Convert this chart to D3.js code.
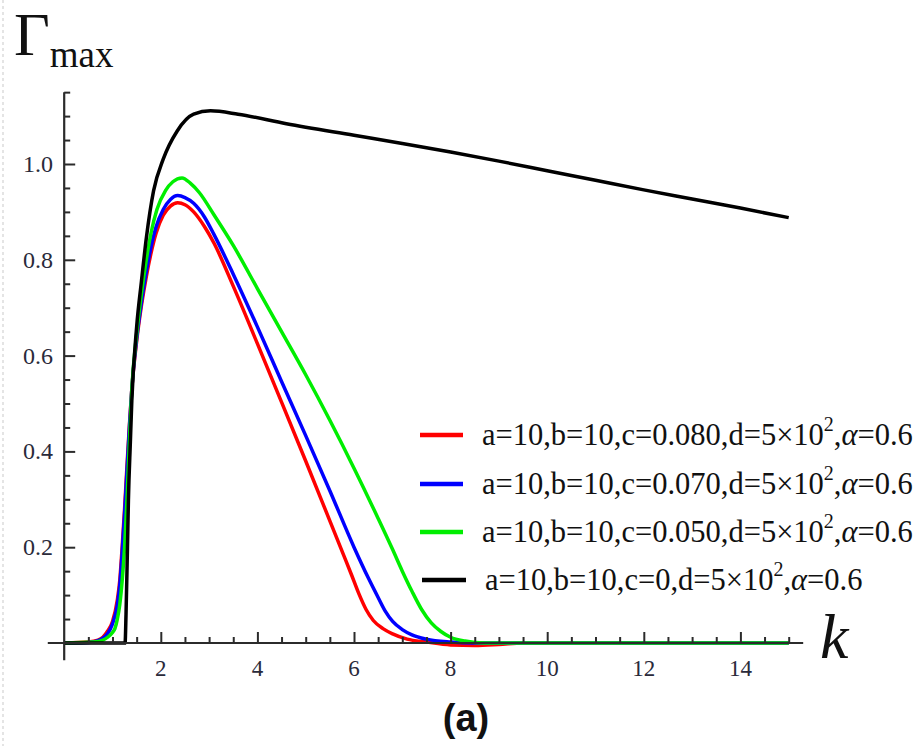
<!DOCTYPE html>
<html>
<head>
<meta charset="utf-8">
<script src="https://cdn.jsdelivr.net/npm/d3@7"></script>
<style>
  body { margin: 0; background: #fff; }
  svg { display: block; }
  .serif { font-family: 'Liberation Serif', 'Times New Roman', 'DejaVu Serif', serif; }
</style>
</head>
<body>
<script>
// Gamma_max against k, four values of c

const WIDTH = 917;
const HEIGHT = 746;

// series: [k, Gamma_max]
const redPoints = [[0,0],[0.5,0.002],[0.7,0.006],[0.8,0.012],[0.9,0.025],[1.0,0.045],[1.1,0.09],[1.15,0.13],[1.2,0.2],
  [1.25,0.28],[1.3,0.37],[1.35,0.455],[1.4,0.53],[1.5,0.63],[1.6,0.705],[1.7,0.765],[1.8,0.815],[1.9,0.855],[2.05,0.893],
  [2.2,0.912],[2.35,0.919],[2.5,0.915],[2.68,0.9],[2.9,0.87],[3.1,0.835],[3.5,0.745],[4.0,0.625],[4.5,0.503],[5.0,0.38],
  [5.5,0.255],[5.8,0.18],[5.95,0.142],[6.1,0.103],[6.25,0.07],[6.4,0.047],[6.6,0.03],[6.8,0.019],[7.1,0.008],[7.5,0.002],
  [8.0,-0.004],[8.5,-0.005],[9.0,-0.003],[9.5,0],[15,0]];

const bluePoints = [[0,0],[0.5,0.001],[0.7,0.005],[0.8,0.01],[0.9,0.02],[1.0,0.04],[1.1,0.08],[1.15,0.12],[1.2,0.19],
  [1.25,0.27],[1.3,0.36],[1.35,0.45],[1.4,0.53],[1.5,0.635],[1.6,0.712],[1.7,0.775],[1.8,0.828],[1.9,0.868],[2.05,0.905],
  [2.2,0.926],[2.35,0.934],[2.5,0.93],[2.68,0.918],[2.9,0.89],[3.1,0.853],[3.5,0.77],[4.0,0.66],[4.5,0.546],[5.0,0.433],
  [5.5,0.318],[6.0,0.2],[6.3,0.135],[6.5,0.095],[6.65,0.066],[6.8,0.045],[7.0,0.028],[7.2,0.017],[7.5,0.008],[8.0,0.002],
  [8.5,0],[15,0]];

const greenPoints = [[0,0],[0.6,0.002],[0.8,0.006],[0.9,0.012],[1.0,0.022],[1.05,0.03],[1.1,0.05],[1.15,0.08],[1.2,0.13],
  [1.25,0.2],[1.3,0.3],[1.35,0.42],[1.4,0.53],[1.5,0.645],[1.6,0.73],[1.7,0.8],[1.8,0.857],[1.92,0.905],[2.1,0.945],
  [2.25,0.963],[2.44,0.971],[2.61,0.96],[2.8,0.94],[3.1,0.894],[3.5,0.83],[4.0,0.74],[4.5,0.65],[5.0,0.56],[5.5,0.465],
  [6.0,0.365],[6.5,0.26],[6.8,0.195],[7.0,0.15],[7.2,0.108],[7.4,0.07],[7.6,0.042],[7.8,0.024],[8.0,0.012],[8.3,0.004],
  [8.7,0],[15,0]];

const blackPoints = [[0,0],[1.26,0],[1.28,0.06],[1.31,0.2],[1.33,0.3],[1.37,0.42],[1.4,0.506],[1.5,0.66],[1.6,0.756],
  [1.7,0.845],[1.85,0.944],[2.05,1.01],[2.34,1.069],[2.68,1.104],[3.03,1.111],[3.6,1.104],[4.6,1.084],[6.0,1.06],
  [7.0,1.043],[8.0,1.025],[9.0,1.006],[10.0,0.986],[11.0,0.966],[12.0,0.946],[13.0,0.927],[14.0,0.908],[15.0,0.888]];

const cValues = ["0.080", "0.070", "0.050", "0"];
const xTicks = [2, 4, 6, 8, 10, 12, 14];
const yTicks = [0.2, 0.4, 0.6, 0.8, 1.0];

const series = [
  {points: redPoints,   color: "#ff0000", c: cValues[0]},
  {points: bluePoints,  color: "#0000ff", c: cValues[1]},
  {points: greenPoints, color: "#00ee00", c: cValues[2]},
  {points: blackPoints, color: "#000000", c: cValues[3]}
];

// scales: k=0 sits at x=64, Gamma=0 at y=643
let xScale = d3.scaleLinear().domain([0, 15]).range([64.2, 788.7]);
let yScale = d3.scaleLinear().domain([0, 1]).range([643, 164]);

let svg = d3.select("body").append("svg")
  .attr("width", WIDTH)
  .attr("height", HEIGHT);

// faint dashed edge on the left
svg.append("line")
  .attr("x1", 3).attr("x2", 3).attr("y1", 0).attr("y2", HEIGHT)
  .attr("stroke", "#e4e4e4").attr("stroke-width", 2).attr("stroke-dasharray", "3,3");

let line = d3.line()
  .x(d => xScale(d[0]))
  .y(d => yScale(d[1]))
  .curve(d3.curveMonotoneX);

svg.append("g").selectAll("path")
  .data(series)
  .enter().append("path")
    .attr("d", d => line(d.points))
    .attr("fill", "none")
    .attr("stroke", d => d.color)
    .attr("stroke-width", 3.5)
    .attr("stroke-linejoin", "round");

// axes, Mathematica style: crossing at the origin, ticks pointing inwards
const axisColor = "#2b2b2b";

let xAxis = d3.axisTop(xScale)
  .tickValues(d3.range(0.5, 15.01, 0.5))
  .tickSize(0).tickFormat("");
let xAxisG = svg.append("g").attr("transform", "translate(0," + yScale(0) + ")").call(xAxis);
xAxisG.select(".domain").remove();
xAxisG.selectAll(".tick line")
  .attr("y2", d => Number.isInteger(d / 2) ? -11 : -6)
  .attr("stroke", axisColor).attr("stroke-width", 2);
xAxisG.append("line")
  .attr("x1", xScale(-0.34)).attr("x2", xScale(15.3))
  .attr("stroke", axisColor).attr("stroke-width", 2.2);

let yAxis = d3.axisRight(yScale)
  .tickValues(d3.range(0.05, 1.151, 0.05))
  .tickSize(0).tickFormat("");
let yAxisG = svg.append("g").attr("transform", "translate(" + xScale(0) + ",0)").call(yAxis);
yAxisG.select(".domain").remove();
yAxisG.selectAll(".tick line")
  .attr("x2", d => Math.abs(d * 5 - Math.round(d * 5)) < 1e-6 ? 11 : 6)
  .attr("stroke", axisColor).attr("stroke-width", 2);
yAxisG.append("line")
  .attr("y1", yScale(-0.036)).attr("y2", yScale(1.15))
  .attr("stroke", axisColor).attr("stroke-width", 2.2);

// tick labels
svg.append("g").selectAll("text")
  .data(xTicks)
  .enter().append("text")
    .attr("class", "serif")
    .attr("x", d => xScale(d))
    .attr("y", 676)
    .attr("text-anchor", "middle")
    .attr("font-size", 23)
    .attr("fill", "#2a2a3a")
    .text(d => d);

svg.append("g").selectAll("text")
  .data(yTicks)
  .enter().append("text")
    .attr("class", "serif")
    .attr("x", 53)
    .attr("y", d => yScale(d) + 8)
    .attr("text-anchor", "end")
    .attr("font-size", 24)
    .attr("fill", "#2a2a3a")
    .text(d => d3.format(".1f")(d));

// axis titles
let yTitle = svg.append("text")
  .attr("class", "serif")
  .attr("x", 14).attr("y", 55)
  .attr("fill", "#111");
yTitle.append("tspan").attr("font-size", 62).text("Γ");
yTitle.append("tspan").attr("font-size", 37).attr("dy", 12).text("max");

svg.append("text")
  .attr("class", "serif")
  .attr("x", 820).attr("y", 658)
  .attr("font-style", "italic")
  .attr("font-size", 64)
  .attr("fill", "#111")
  .text("k");

svg.append("text")
  .attr("x", 466).attr("y", 731)
  .attr("text-anchor", "middle")
  .attr("font-family", "'Liberation Sans', Arial, sans-serif")
  .attr("font-weight", "bold")
  .attr("font-size", 38)
  .attr("fill", "#111")
  .text("(a)");

// legend
const legendY = [435, 484, 532, 580];
let legend = svg.append("g").selectAll("g")
  .data(series)
  .enter().append("g")
    .attr("transform", (d, i) => "translate(0," + legendY[i] + ")");

legend.append("line")
  .attr("x1", (d, i) => i === 3 ? 422 : 420)
  .attr("x2", (d, i) => i === 3 ? 466 : 463)
  .attr("stroke", d => d.color)
  .attr("stroke-width", 4.5);

let lt = legend.append("text")
  .attr("class", "serif")
  .attr("x", (d, i) => i === 3 ? 485 : 482)
  .attr("y", 10)
  .attr("font-size", 30.5)
  .attr("fill", "#111");
lt.append("tspan").text(d => "a=10,b=10,c=" + d.c + ",d=5×10");
lt.append("tspan").attr("font-size", 20).attr("dy", -14).text("2");
lt.append("tspan").attr("dy", 14).text(",");
lt.append("tspan").attr("font-style", "italic").text("α");
lt.append("tspan").text("=0.6");
</script>
</body>
</html>
